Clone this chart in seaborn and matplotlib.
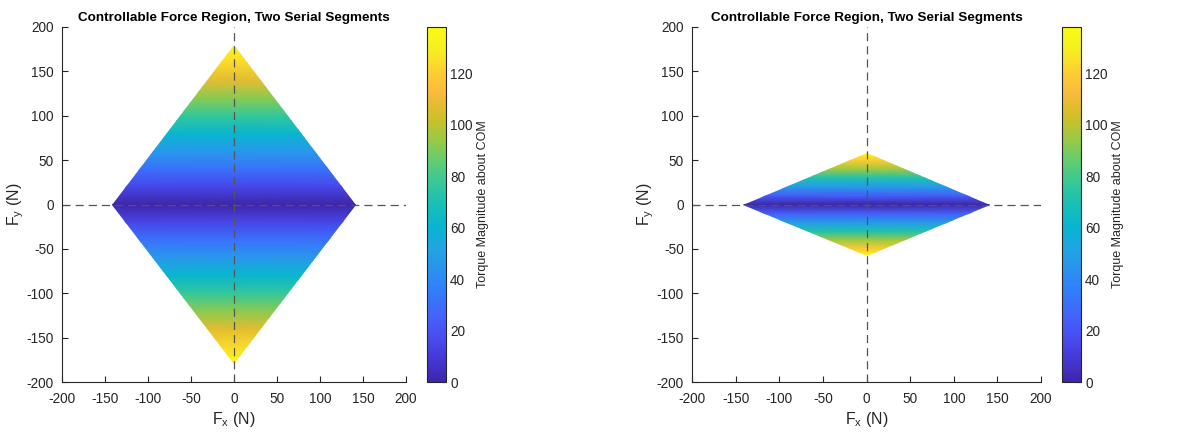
import numpy as np
import matplotlib
matplotlib.use("Agg")
import matplotlib.pyplot as plt
from matplotlib.patches import Polygon
import seaborn as sns

# ---- data ----
# diamond corners (Fx max, Fy max) for each panel
left_fx_max, left_fy_max = 142, 180
right_fx_max, right_fy_max = 142, 58

# torque magnitude about COM at Fy levels (colour is constant along Fx)
left_fy = [-180, -160, -140, -120, -100, -80, -60, -40, -20, 0,
           20, 40, 60, 80, 100, 120, 140, 160, 180]
left_torque = [138, 123, 107, 92, 77, 61, 46, 31, 15, 0,
               15, 31, 46, 61, 77, 92, 107, 123, 138]
right_fy = [-58, -50, -40, -30, -20, -10, 0, 10, 20, 30, 40, 50, 58]
right_torque = [138, 119, 95, 71, 47, 24, 0, 24, 47, 71, 95, 119, 138]

axis_ticks = [-200, -150, -100, -50, 0, 50, 100, 150, 200]
cbar_ticks = [0, 20, 40, 60, 80, 100, 120]
torque_max = 138

# MATLAB parula, approximated with stops
parula_stops = [
    (0.2422, 0.1504, 0.6603), (0.2706, 0.2147, 0.8364), (0.2813, 0.3006, 0.9414),
    (0.2699, 0.3892, 0.9906), (0.1963, 0.4847, 0.9892), (0.1687, 0.5703, 0.9359),
    (0.1248, 0.6459, 0.8883), (0.0297, 0.7082, 0.8163), (0.0964, 0.7500, 0.7120),
    (0.2161, 0.7843, 0.5923), (0.3909, 0.8029, 0.4354), (0.6174, 0.7876, 0.2612),
    (0.8203, 0.7498, 0.1535), (0.9728, 0.7298, 0.2394), (0.9892, 0.8136, 0.1885),
    (0.9628, 0.9373, 0.1265), (0.9769, 0.9839, 0.0805),
]
parula = sns.blend_palette(parula_stops, n_colors=256, as_cmap=True)

sns.set_style("ticks")
plt.rcParams["font.family"] = ["Liberation Sans", "DejaVu Sans"]
plt.rcParams["mathtext.fontset"] = "custom"
plt.rcParams["mathtext.rm"] = "Liberation Sans"
plt.rcParams["mathtext.it"] = "Liberation Sans"
plt.rcParams["axes.unicode_minus"] = False
text_color = "#262626"

fig = plt.figure(figsize=(11.94, 4.34), dpi=100)

panels = [
    ([0.0519, 0.1198, 0.2881, 0.818], [0.3576, 0.1198, 0.0159, 0.818],
     left_fx_max, left_fy_max, left_fy, left_torque),
    ([0.5796, 0.1198, 0.2923, 0.818], [0.8894, 0.1198, 0.0159, 0.818],
     right_fx_max, right_fy_max, right_fy, right_torque),
]

for ax_pos, cb_pos, fx_max, fy_max, fy_levels, torque in panels:
    ax = fig.add_axes(ax_pos)
    cax = fig.add_axes(cb_pos)

    # colour field: constant along Fx, shaded between the read Fy levels
    X, Y = np.meshgrid([-fx_max, fx_max], fy_levels)
    C = np.column_stack([torque, torque])
    mesh = ax.pcolormesh(X, Y, C, cmap=parula, vmin=0, vmax=torque_max,
                         shading="gouraud", zorder=1)
    diamond = Polygon([(-fx_max, 0), (0, fy_max), (fx_max, 0), (0, -fy_max)],
                      closed=True, transform=ax.transData)
    mesh.set_clip_path(diamond)

    ax.axhline(0, color="#555555", linestyle=(0, (6.5, 4)), linewidth=0.9, zorder=2)
    ax.axvline(0, color="#555555", linestyle=(0, (6.5, 4)), linewidth=0.9, zorder=2)

    ax.set_xlim(-200, 200)
    ax.set_ylim(-200, 200)
    ax.set_xticks(axis_ticks)
    ax.set_yticks(axis_ticks)
    sns.despine(ax=ax)
    for side in ["left", "bottom"]:
        ax.spines[side].set_color(text_color)
        ax.spines[side].set_linewidth(0.8)
    ax.tick_params(direction="in", length=4, width=0.8, colors=text_color,
                   labelsize=9.8)
    ax.tick_params(axis="x", pad=7)
    ax.tick_params(axis="y", pad=6)
    ax.set_xlabel("F$_x$ (N)", fontsize=11.5, color=text_color, labelpad=3)
    ax.set_ylabel("F$_y$ (N)", fontsize=11.5, color=text_color, labelpad=0)
    ax.set_title("Controllable Force Region, Two Serial Segments",
                 fontsize=9.7, fontweight="bold", color="black", pad=4)

    cb = fig.colorbar(mesh, cax=cax, ticks=cbar_ticks)
    cb.outline.set_edgecolor(text_color)
    cb.outline.set_linewidth(0.8)
    cax.tick_params(direction="in", length=3, width=0.8, colors=text_color,
                    labelsize=9.8, pad=3)
    cb.set_label("Torque Magnitude about COM", fontsize=9, color=text_color,
                 labelpad=3)

fig.savefig("out.png", dpi=100)
